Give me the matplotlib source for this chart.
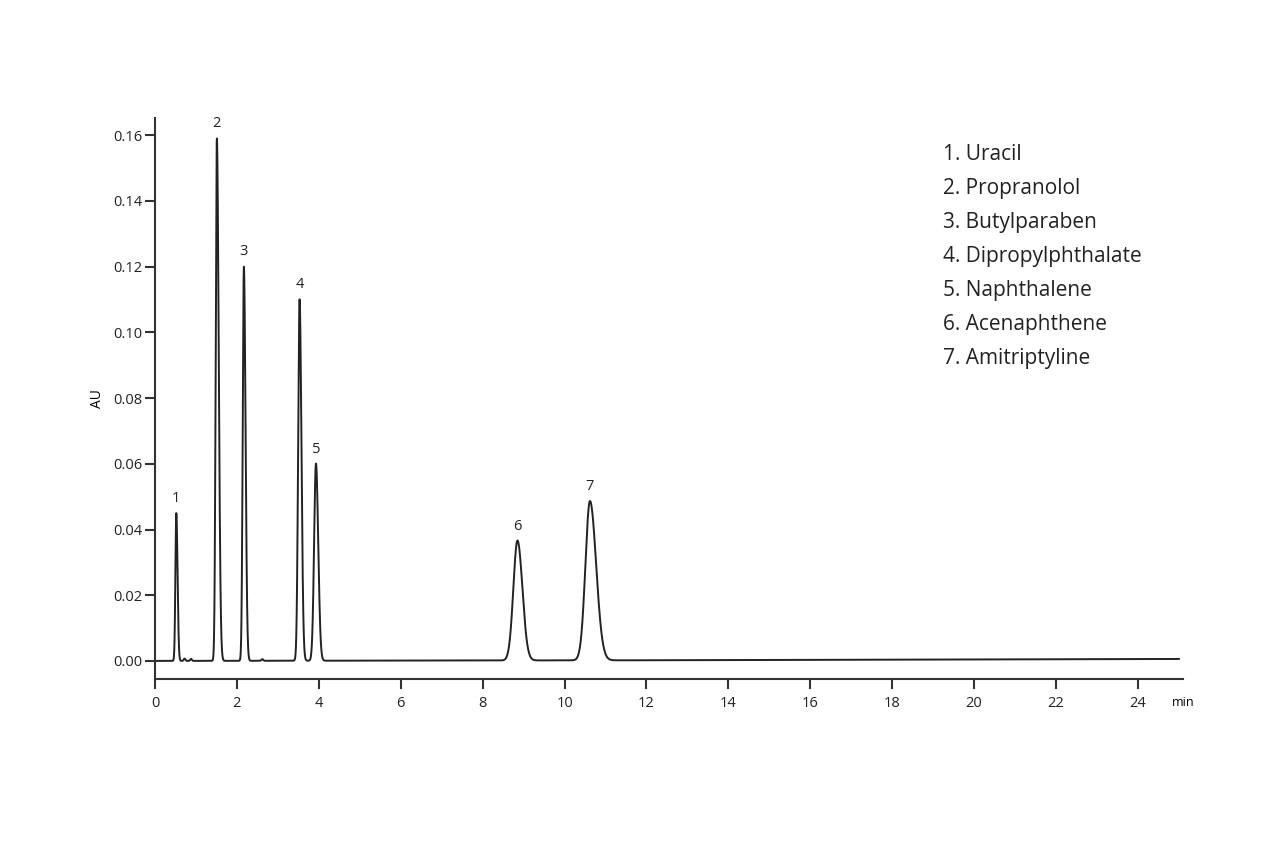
import numpy as np
import matplotlib.pyplot as plt
import matplotlib as mpl

settings = {"font.family": ['Open Sans', 'DejaVu Sans'],
            "xtick.labelsize": 10.5,
            "ytick.labelsize": 10.5}
mpl.rcParams.update(settings)

# peak table
peak_ids = ['1', '2', '3', '4', '5', '6', '7']
retention = [0.52, 1.51, 2.17, 3.53, 3.93, 8.85, 10.62]     # min
heights = [0.045, 0.159, 0.120, 0.110, 0.060, 0.0365, 0.0485]  # AU
sigma_left = [0.022, 0.028, 0.028, 0.035, 0.045, 0.10, 0.11]
sigma_right = [0.030, 0.045, 0.040, 0.045, 0.055, 0.12, 0.15]

# small baseline bumps
bump_rt = [0.72, 0.88, 2.62]
bump_h = [0.0007, 0.0006, 0.0005]

# baseline drift
drift_t = [0, 12, 25]
drift_v = [0.0, 0.0002, 0.0006]

compounds = ['1. Uracil', '2. Propranolol', '3. Butylparaben', '4. Dipropylphthalate',
             '5. Naphthalene', '6. Acenaphthene', '7. Amitriptyline']

t = np.linspace(0, 25, 12000)
signal = np.interp(t, drift_t, drift_v)
for rt, h, sl, sr in zip(retention, heights, sigma_left, sigma_right):
    s = np.where(t < rt, sl, sr)
    signal += h * np.exp(-0.5 * ((t - rt) / s) ** 2)
for rt, h in zip(bump_rt, bump_h):
    signal += h * np.exp(-0.5 * ((t - rt) / 0.02) ** 2)

fig = plt.figure(figsize=(12.8, 8.44), dpi=100)
ax = fig.add_axes([0.1211, 0.1955, 0.8031, 0.6645])
ax.plot(t, signal, color='#222222', linewidth=1.4)

for pid, rt, h in zip(peak_ids, retention, heights):
    ax.text(rt, h + 0.0022, pid, ha='center', va='bottom', fontsize=10.5, color='#222222')

ax.set_xlim(0, 25.1)
ax.set_ylim(-0.0055, 0.1652)
ax.set_xticks(np.arange(0, 25, 2))
ax.set_yticks(np.arange(0, 0.17, 0.02))
ax.yaxis.set_major_formatter(mpl.ticker.FormatStrFormatter('%.2f'))
ax.spines['top'].set_visible(False)
ax.spines['right'].set_visible(False)
for sp in ['left', 'bottom']:
    ax.spines[sp].set_linewidth(1.5)
    ax.spines[sp].set_color('#333333')
ax.tick_params(direction='out', length=7, width=1.5, colors='#333333', labelcolor='#222222')
ax.tick_params(axis='x', pad=5)
ax.tick_params(axis='y', pad=2)
ax.set_ylabel('AU', fontsize=10, labelpad=6)
ax.text(1.0, -0.0305, 'min', transform=ax.transAxes, ha='center', va='top', fontsize=9)

for i, c in enumerate(compounds):
    fig.text(0.737, 0.817 - i * 0.0403, c, fontsize=15, color='#222222', va='center', ha='left')

plt.savefig('out.png', dpi=100)
